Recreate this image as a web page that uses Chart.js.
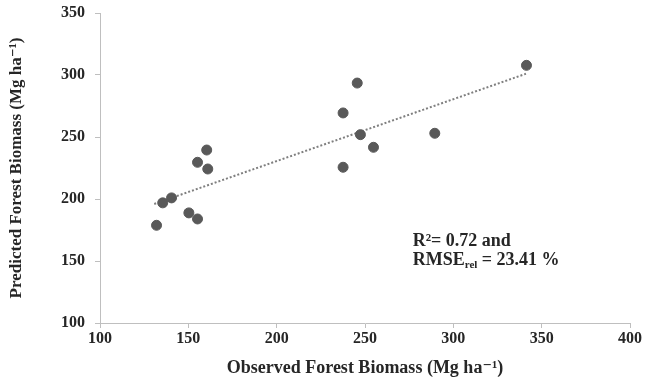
<!DOCTYPE html>
<html>
<head>
<meta charset="utf-8">
<script src="https://cdn.jsdelivr.net/npm/chart.js@4/dist/chart.umd.min.js"></script>
<style>
  html, body { margin: 0; padding: 0; background: #ffffff; }
  #wrap { width: 646px; height: 387px; position: relative; }
</style>
</head>
<body>
<div id="wrap"><canvas id="c" width="646" height="387"></canvas></div>
<script>
// Observed vs predicted forest biomass (Mg ha-1)
const observed  = [132.0, 135.5, 140.5, 150.3, 155.2, 155.2, 160.4, 161.0, 237.6, 245.6, 247.4, 254.8, 237.6, 289.5, 341.4];
const predicted = [178.8, 196.9, 200.9, 188.8, 183.9, 229.6, 239.5, 224.2, 269.4, 293.5, 251.9, 241.7, 225.6, 253.0, 307.8];
// Linear trendline end points
const trendX = [130.7, 341.1];
const trendY = [196.0, 301.0];
const xTicks = [100, 150, 200, 250, 300, 350, 400];
const yTicks = [100, 150, 200, 250, 300, 350];
const xTitle = 'Observed Forest Biomass (Mg ha\u207B\u00B9)';
const yTitle = 'Predicted Forest Biomass (Mg ha\u207B\u00B9)';
const statLine1 = 'R\u00B2= 0.72 and';
const statLine2a = 'RMSE';
const statLine2sub = 'rel';
const statLine2b = ' = 23.41 %';

const serif = "'Liberation Serif', 'DejaVu Serif', serif";
const axisColor = '#bfbfbf';
const textColor = '#262626';

const scatterData = observed.map((x, i) => ({ x: x, y: predicted[i] }));
const trendData = trendX.map((x, i) => ({ x: x, y: trendY[i] }));

const annotationPlugin = {
  id: 'stats',
  afterDraw(chart) {
    const ctx = chart.ctx;
    const xs = chart.scales.x, ys = chart.scales.y;
    ctx.save();
    ctx.fillStyle = textColor;
    ctx.textBaseline = 'alphabetic';
    ctx.textAlign = 'left';
    const x0 = xs.getPixelForValue(277);
    const yb1 = ys.getPixelForValue(162);
    const yb2 = ys.getPixelForValue(146.6);
    ctx.font = "bold 18px " + serif;
    ctx.fillText(statLine1, x0, yb1);
    ctx.fillText(statLine2a, x0, yb2);
    let w = ctx.measureText(statLine2a).width;
    ctx.font = "bold 11px " + serif;
    ctx.fillText(statLine2sub, x0 + w, yb2 + 3);
    w += ctx.measureText(statLine2sub).width;
    ctx.font = "bold 18px " + serif;
    ctx.fillText(statLine2b, x0 + w, yb2);
    ctx.restore();
  }
};

new Chart(document.getElementById('c'), {
  type: 'scatter',
  data: {
    datasets: [
      {
        label: 'Trend',
        type: 'line',
        data: trendData,
        borderColor: '#7f7f7f',
        borderWidth: 2,
        borderDash: [2, 2],
        pointRadius: 0,
        fill: false,
        order: 2
      },
      {
        label: 'Biomass',
        data: scatterData,
        backgroundColor: '#595959',
        borderColor: '#595959',
        pointRadius: 5,
        pointHoverRadius: 5,
        order: 1
      }
    ]
  },
  options: {
    responsive: false,
    animation: false,
    events: [],
    layout: { padding: { left: 0, right: 16, top: 13, bottom: 0 } },
    plugins: { legend: { display: false }, tooltip: { enabled: false } },
    scales: {
      x: {
        type: 'linear',
        min: 100, max: 400,
        afterBuildTicks(s) { s.ticks = xTicks.map(v => ({ value: v })); },
        afterFit(s) { s.height = 64; s.paddingLeft = 0; s.paddingRight = 0; },
        grid: { drawOnChartArea: false, drawTicks: true, tickLength: 5, color: axisColor },
        border: { color: axisColor, width: 1 },
        ticks: { color: textColor, padding: 1, font: { family: serif, size: 16, weight: 'bold' } },
        title: { display: true, text: xTitle, color: textColor, padding: { top: 0, bottom: 8 }, font: { family: serif, size: 18, weight: 'bold' } }
      },
      y: {
        type: 'linear',
        min: 100, max: 350,
        afterBuildTicks(s) { s.ticks = yTicks.map(v => ({ value: v })); },
        afterFit(s) { s.width = 100; s.paddingTop = 0; s.paddingBottom = 0; },
        grid: { drawOnChartArea: false, drawTicks: true, tickLength: 5, color: axisColor },
        border: { color: axisColor, width: 1 },
        ticks: { color: textColor, padding: 10, font: { family: serif, size: 16, weight: 'bold' } },
        title: { display: true, text: yTitle, color: textColor, padding: { top: 6, bottom: 0 }, font: { family: serif, size: 17, weight: 'bold' } }
      }
    }
  },
  plugins: [annotationPlugin]
});
</script>
</body>
</html>
